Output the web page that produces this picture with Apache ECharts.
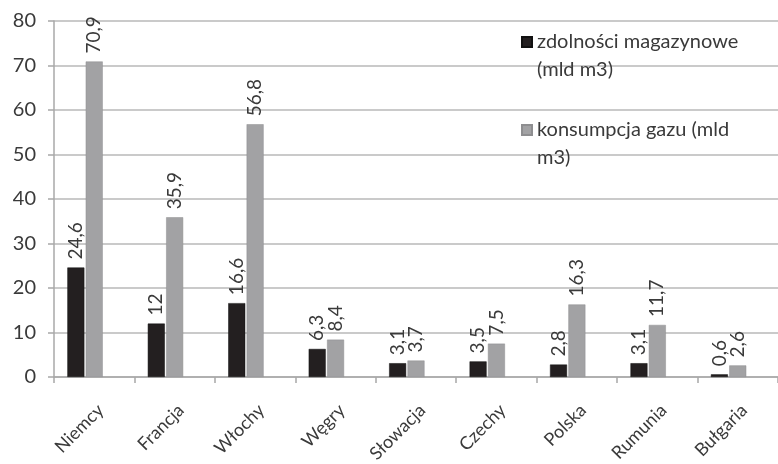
<!DOCTYPE html>
<html>
<head>
<meta charset="utf-8">
<script src="https://cdn.jsdelivr.net/npm/echarts@6/dist/echarts.min.js"></script>
<style>
  html, body { margin: 0; padding: 0; background: #fff; }
  #chart { width: 778px; height: 464px; }
</style>
</head>
<body>
<div id="chart"></div>
<script>
// Countries shown on the category axis
const countries = ['Niemcy', 'Francja', 'Włochy', 'Węgry', 'Słowacja', 'Czechy', 'Polska', 'Rumunia', 'Bułgaria'];
// Gas storage capacity (bcm)
const storage = [24.6, 12, 16.6, 6.3, 3.1, 3.5, 2.8, 3.1, 0.6];
// Gas consumption (bcm)
const consumption = [70.9, 35.9, 56.8, 8.4, 3.7, 7.5, 16.3, 11.7, 2.6];
// Series names and their wrapped legend text (leading blank line keeps the
// marker level with the first text line)
const seriesNames = ['zdolności magazynowe (mld m3)', 'konsumpcja gazu (mld m3)'];
const legendLines = {
  'zdolności magazynowe (mld m3)': ' \nzdolności magazynowe\n(mld m3)',
  'konsumpcja gazu (mld m3)': ' \nkonsumpcja gazu (mld\nm3)'
};
// Y axis range
const yMin = 0, yMax = 80, yStep = 10;

const FONT = 'Lato, "Open Sans", sans-serif';
const TEXT = '#3a3a3a';

const fmt = v => String(v).replace('.', ',');

const barLabel = {
  show: true,
  position: 'top',
  rotate: 90,
  align: 'left',
  verticalAlign: 'middle',
  distance: 8,
  fontFamily: FONT,
  fontSize: 19,
  color: TEXT,
  formatter: p => fmt(p.value)
};

const chart = echarts.init(document.getElementById('chart'));
chart.setOption({
  animation: false,
  backgroundColor: '#fff',
  grid: {
    left: 54, right: 0, top: 21, bottom: 87,
    containLabel: false,
    outerBoundsMode: 'none'
  },
  legend: {
    orient: 'vertical',
    left: 521,
    top: 0,
    padding: 0,
    itemWidth: 10,
    itemHeight: 10,
    itemGap: 4,
    icon: 'rect',
    data: seriesNames,
    formatter: n => legendLines[n],
    textStyle: {
      fontFamily: FONT,
      fontSize: 20,
      color: TEXT,
      lineHeight: 28
    }
  },
  xAxis: {
    type: 'category',
    data: countries,
    axisLine: { show: true, lineStyle: { color: '#a8a8a8', width: 1.5 } },
    axisTick: { show: true, length: 6, lineStyle: { color: '#a8a8a8', width: 1.5 } },
    axisLabel: {
      rotate: 45,
      margin: 24,
      align: 'right',
      verticalAlign: 'top',
      fontFamily: FONT,
      fontSize: 18,
      color: TEXT,
      interval: 0
    }
  },
  yAxis: {
    type: 'value',
    min: yMin,
    max: yMax,
    interval: yStep,
    axisLine: { show: true, lineStyle: { color: '#a8a8a8', width: 1.5 } },
    axisTick: { show: true, length: 6, lineStyle: { color: '#a8a8a8', width: 1.5 } },
    splitLine: { show: true, lineStyle: { color: '#b8b8b8', width: 1.5 } },
    axisLabel: {
      margin: 18,
      fontFamily: FONT,
      fontSize: 20,
      color: TEXT
    }
  },
  series: [
    {
      name: seriesNames[0],
      type: 'bar',
      data: storage,
      barWidth: 17,
      barGap: '8%',
      itemStyle: { color: '#231f20', borderColor: '#111', borderWidth: 0.5 },
      label: barLabel
    },
    {
      name: seriesNames[1],
      type: 'bar',
      data: consumption,
      barWidth: 17,
      barGap: '8%',
      itemStyle: { color: '#a2a2a4', borderColor: '#8e8e90', borderWidth: 0.5 },
      label: barLabel
    },
    {
      // third, empty slot in each category group
      name: '',
      type: 'bar',
      data: countries.map(() => null),
      barWidth: 17,
      barGap: '8%'
    }
  ]
});
</script>
</body>
</html>
